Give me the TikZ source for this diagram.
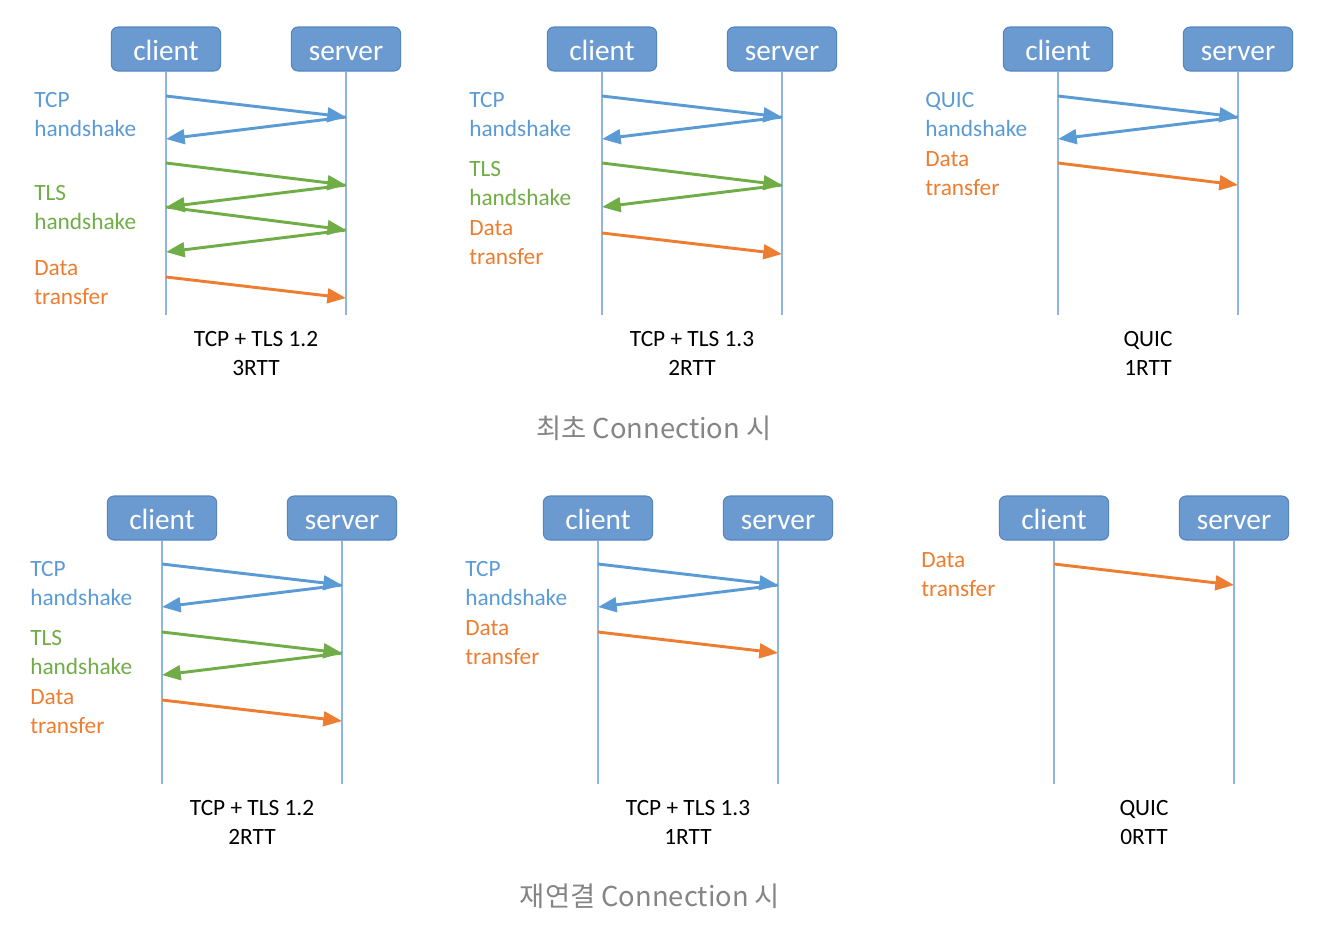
\documentclass[tikz,border=0pt]{standalone}
\usepackage{fontspec}
\setmainfont{Carlito}
\newfontfamily\krfont{Noto Sans CJK KR}
\usetikzlibrary{arrows.meta}

\definecolor{boxfill}{HTML}{6A9AD0}
\definecolor{boxline}{HTML}{5585BE}
\definecolor{lifec}{HTML}{8DB4E2}
\definecolor{tcpc}{HTML}{5B9BD5}
\definecolor{tlsc}{HTML}{70AD47}
\definecolor{datac}{HTML}{ED7D31}
\definecolor{capgray}{HTML}{858585}

\tikzset{
  actor/.style={draw=boxline, fill=boxfill, rounded corners=5pt, line width=0.8pt,
    minimum width=82pt, minimum height=33pt, text=white,
    text height=16.5pt, text depth=0pt,
    font=\fontsize{22}{26}\selectfont},
  life/.style={lifec, line width=1pt},
  msgarrow/.style={line width=2.2pt, -{Triangle[length=14pt, width=11pt]}},
  tcp/.style={msgarrow, tcpc},
  tls/.style={msgarrow, tlsc},
  data/.style={msgarrow, datac},
  lbl/.style={anchor=west, align=left, inner sep=0pt,
    font=\fontsize{17.5}{21.75}\selectfont},
  caption/.style={align=center, inner sep=0pt, font=\fontsize{17.5}{21.75}\selectfont},
  title/.style={capgray, font=\krfont\fontsize{20.5}{24}\selectfont}
}

% client/server boxes with their lifelines
\newcommand{\actors}[1]{%
  \node[actor] (c#1) at (166,49) {client};
  \node[actor] (s#1) at (346,49) {server};
  \coordinate (ce#1) at (166,315);
  \coordinate (se#1) at (346,315);
  \draw[life] (c#1) -- (ce#1);
  \draw[life] (s#1) -- (se#1);
}
% one message between two lifelines
\newcommand{\msg}[5]{\draw[#1] (#2 |- 0,#4) -- (#3 |- 0,#5);}

\begin{document}
\begin{tikzpicture}[x=0.75pt, y=-0.75pt]
    \useasboundingbox (0,0) rectangle (1342,926);

    % first connection: TCP + TLS 1.2
    \begin{scope}
        \actors{1}
        \node[lbl, tcpc] (l1a) at (34,114.5) {TCP\\handshake};
        \node[lbl, tlsc] (l1b) at (34,207.5) {TLS\\handshake};
        \node[lbl, datac] (l1c) at (34,282.5) {Data\\transfer};
        \msg{tcp}{c1}{s1}{96}{117}
        \msg{tcp}{s1}{c1}{117}{139}
        \msg{tls}{c1}{s1}{163}{185}
        \msg{tls}{s1}{c1}{185}{207}
        \msg{tls}{c1}{s1}{207}{230}
        \msg{tls}{s1}{c1}{230}{252}
        \msg{data}{c1}{s1}{277}{298}
        \node[caption] (n1) at (256,353.5) {TCP + TLS 1.2\\3RTT};
    \end{scope}

    % first connection: TCP + TLS 1.3
    \begin{scope}[shift={(436,0)}]
        \actors{2}
        \node[lbl, tcpc] (l2a) at (33,114.5) {TCP\\handshake};
        \node[lbl, tlsc] (l2b) at (33,183.5) {TLS\\handshake};
        \node[lbl, datac] (l2c) at (33,242.5) {Data\\transfer};
        \msg{tcp}{c2}{s2}{96}{117}
        \msg{tcp}{s2}{c2}{117}{139}
        \msg{tls}{c2}{s2}{163}{185}
        \msg{tls}{s2}{c2}{185}{207}
        \msg{data}{c2}{s2}{233}{254}
        \node[caption] (n2) at (256,353.5) {TCP + TLS 1.3\\2RTT};
    \end{scope}

    % first connection: QUIC
    \begin{scope}[shift={(892,0)}]
        \actors{3}
        \node[lbl, tcpc] (l3a) at (33,114.5) {QUIC\\handshake};
        \node[lbl, datac] (l3b) at (33,174) {Data\\transfer};
        \msg{tcp}{c3}{s3}{96}{117}
        \msg{tcp}{s3}{c3}{117}{139}
        \msg{data}{c3}{s3}{163}{185}
        \node[caption] (n3) at (256,353.5) {QUIC\\1RTT};
    \end{scope}

    \node[title] (t1) at (654,428) {최초 Connection 시};

    % reconnection: TCP + TLS 1.2
    \begin{scope}[shift={(-4,469)}]
        \actors{4}
        \node[lbl, tcpc] (l4a) at (34,114.5) {TCP\\handshake};
        \node[lbl, tlsc] (l4b) at (34,183.5) {TLS\\handshake};
        \node[lbl, datac] (l4c) at (34,242.5) {Data\\transfer};
        \msg{tcp}{c4}{s4}{95}{116}
        \msg{tcp}{s4}{c4}{116}{138}
        \msg{tls}{c4}{s4}{163}{184}
        \msg{tls}{s4}{c4}{184}{206}
        \msg{data}{c4}{s4}{231}{252}
        \node[caption] (n4) at (256,353.5) {TCP + TLS 1.2\\2RTT};
    \end{scope}

    % reconnection: TCP + TLS 1.3
    \begin{scope}[shift={(432,469)}]
        \actors{5}
        \node[lbl, tcpc] (l5a) at (33,114.5) {TCP\\handshake};
        \node[lbl, datac] (l5b) at (33,173.5) {Data\\transfer};
        \msg{tcp}{c5}{s5}{95}{116}
        \msg{tcp}{s5}{c5}{116}{138}
        \msg{data}{c5}{s5}{163}{184}
        \node[caption] (n5) at (256,353.5) {TCP + TLS 1.3\\1RTT};
    \end{scope}

    % reconnection: QUIC
    \begin{scope}[shift={(888,469)}]
        \actors{6}
        \node[lbl, datac] (l6a) at (33,105.5) {Data\\transfer};
        \msg{data}{c6}{s6}{95}{116}
        \node[caption] (n6) at (256,353.5) {QUIC\\0RTT};
    \end{scope}

    \node[title] (t2) at (650,896) {재연결 Connection 시};
\end{tikzpicture}
\end{document}
